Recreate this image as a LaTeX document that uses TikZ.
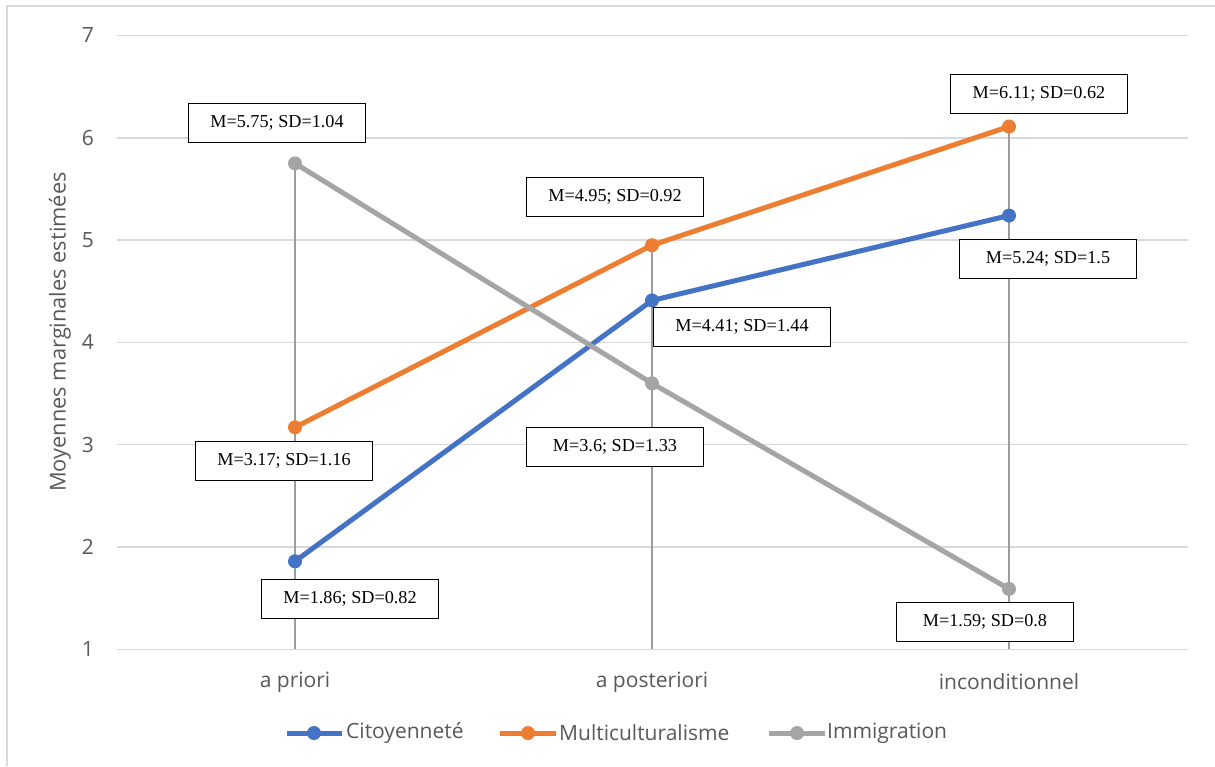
\documentclass[tikz,border=0pt]{standalone}
\usepackage{fontspec}
\setmainfont{Liberation Serif}
\newfontfamily\axfont{Open Sans}
\definecolor{cblue}{HTML}{4472C4}
\definecolor{corange}{HTML}{ED7D31}
\definecolor{cgray}{HTML}{A5A5A5}
\definecolor{gridc}{HTML}{D9D9D9}
\definecolor{txtc}{HTML}{595959}
\def\Y#1{649.3-(#1-1)*102.3}
\tikzset{
  gridline/.style={draw=gridc, line width=1.5pt},
  framebox/.style={draw=gridc, line width=1.5pt},
  dropline/.style={draw=cgray!95!black, line width=1.4pt},
  ticklab/.style={font=\axfont\fontsize{21}{24}\selectfont, text=txtc, inner sep=0pt},
  series/.style={line width=5pt, line join=round},
  dotmark/.style={circle, fill=#1, minimum size=14pt, inner sep=0pt},
  valbox/.style={draw=black, line width=1.1pt, fill=white, minimum width=177pt, minimum height=39pt, inner sep=0pt, font=\fontsize{18.2}{20}\selectfont},
}
\begin{document}
\begin{tikzpicture}[x=1pt,y=-1pt]
\useasboundingbox (0,0) rectangle (1215,766);
\fill[white] (0,0) rectangle (1215,766);
\draw[framebox] (7,766) -- (7,6) -- (1215,6);
% grid and ticks
\foreach \v in {1,...,7}{
  \draw[gridline] (117,{\Y{\v}}) -- (1188,{\Y{\v}});
  \node[ticklab] (t\v) at (88,{\Y{\v}}) {\v};
}
% axis title
\node[ticklab, rotate=90, font=\axfont\fontsize{21.8}{24}\selectfont] (ytitle) at (60,332) {Moyennes marginales estimées};
% category labels
\node[ticklab] (cat1) at (295,682) {a priori};
\node[ticklab] (cat2) at (652,682) {a posteriori};
\node[ticklab] (cat3) at (1009,682) {inconditionnel};
% coordinates
\coordinate (b1) at (295,{\Y{1.86}});
\coordinate (b2) at (652,{\Y{4.41}});
\coordinate (b3) at (1009,{\Y{5.24}});
\coordinate (o1) at (295,{\Y{3.17}});
\coordinate (o2) at (652,{\Y{4.95}});
\coordinate (o3) at (1009,{\Y{6.11}});
\coordinate (g1) at (295,{\Y{5.75}});
\coordinate (g2) at (652,{\Y{3.6}});
\coordinate (g3) at (1009,{\Y{1.59}});
\coordinate (base1) at (295,{\Y{1}});
\coordinate (base2) at (652,{\Y{1}});
\coordinate (base3) at (1009,{\Y{1}});
% drop lines
\draw[dropline] (g1) -- (base1);
\draw[dropline] (o2) -- (base2);
\draw[dropline] (o3) -- (base3);
% series
\draw[series, cblue] (b1) -- (b2) -- (b3);
\node[dotmark=cblue] (mb1) at (b1) {};
\node[dotmark=cblue] (mb2) at (b2) {};
\node[dotmark=cblue] (mb3) at (b3) {};
\draw[series, corange] (o1) -- (o2) -- (o3);
\node[dotmark=corange] (mo1) at (o1) {};
\node[dotmark=corange] (mo2) at (o2) {};
\node[dotmark=corange] (mo3) at (o3) {};
\draw[series, cgray] (g1) -- (g2) -- (g3);
\node[dotmark=cgray] (mg1) at (g1) {};
\node[dotmark=cgray] (mg2) at (g2) {};
\node[dotmark=cgray] (mg3) at (g3) {};
% value labels
\node[valbox] (lg1) at (277,123) {M=5.75; SD=1.04};
\node[valbox] (lo1) at (284,461) {M=3.17; SD=1.16};
\node[valbox] (lb1) at (350,599) {M=1.86; SD=0.82};
\node[valbox] (lo2) at (615,197) {M=4.95; SD=0.92};
\node[valbox] (lb2) at (742,327) {M=4.41; SD=1.44};
\node[valbox] (lg2) at (615,447) {M=3.6; SD=1.33};
\node[valbox] (lo3) at (1039,94) {M=6.11; SD=0.62};
\node[valbox] (lb3) at (1048,259) {M=5.24; SD=1.5};
\node[valbox] (lg3) at (985,622) {M=1.59; SD=0.8};
% legend
\coordinate (lgb1) at (287,733); \coordinate (lgb2) at (342,733);
\draw[series, cblue] (lgb1) -- (lgb2);
\node[dotmark=cblue] (lgbm) at (314,733) {};
\node[ticklab, anchor=west] (lgbt) at (346,733) {Citoyenneté};
\coordinate (lgo1) at (500,733); \coordinate (lgo2) at (556,733);
\draw[series, corange] (lgo1) -- (lgo2);
\node[dotmark=corange] (lgom) at (528,733) {};
\node[ticklab, anchor=west] (lgot) at (559,733) {Multiculturalisme};
\coordinate (lgg1) at (769,733); \coordinate (lgg2) at (825,733);
\draw[series, cgray] (lgg1) -- (lgg2);
\node[dotmark=cgray] (lggm) at (797,733) {};
\node[ticklab, anchor=west] (lggt) at (827,733) {Immigration};
\end{tikzpicture}
\end{document}
